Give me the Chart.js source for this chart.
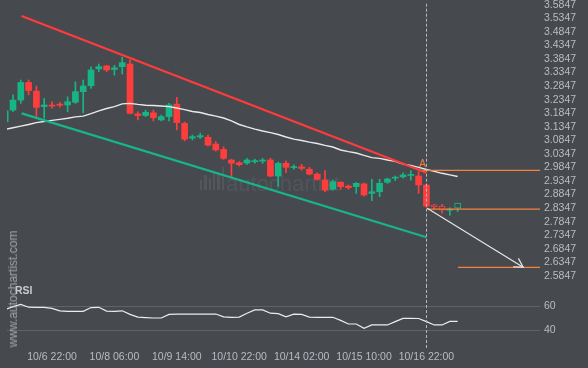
<!DOCTYPE html>
<html><head><meta charset="utf-8">
<script src="https://cdn.jsdelivr.net/npm/chart.js@4/dist/chart.umd.min.js"></script>
<style>
html,body{margin:0;padding:0;background:#464a4f;width:588px;height:368px;overflow:hidden;}
#wrap{position:relative;width:588px;height:368px;}
canvas{position:absolute;left:0;z-index:2;}
#main{top:0;}
#rsi{top:285px;}
.wm{position:absolute;left:226px;top:171px;font:22px "Liberation Sans",Arial,sans-serif;color:rgba(255,255,255,0.075);z-index:1;white-space:nowrap;}
.logo{position:absolute;left:200px;top:166px;width:24px;height:24px;z-index:1;display:flex;align-items:flex-end;gap:2px;}
.logo span{display:block;width:3px;background:rgba(255,255,255,0.07);}
.url{position:absolute;left:13px;top:289px;transform:translate(-50%,-50%) rotate(-90deg);font:12px "Liberation Sans",Arial,sans-serif;color:rgba(190,192,196,0.75);white-space:nowrap;z-index:3;}
</style>
</head><body>
<div id="wrap">
<div class="logo"><span style="height:10px"></span><span style="height:15px"></span><span style="height:12px"></span><span style="height:19px"></span><span style="height:16px"></span><span style="height:23px"></span></div>
<div class="wm">autochartist</div>
<canvas id="main" width="588" height="285"></canvas>
<canvas id="rsi" width="588" height="83"></canvas>
<div class="url">www.autochartist.com</div>
</div>
<script>
// ---- data ----
const xLabels = ["10/6 22:00","10/8 06:00","10/9 14:00","10/10 22:00","10/14 02:00","10/15 10:00","10/16 22:00"];
const xLabelIndex = [6,14,22,30,38,46,54];
const priceTicks = [2.5847,2.6347,2.6847,2.7347,2.7847,2.8347,2.8847,2.9347,2.9847,3.0347,3.0847,3.1347,3.1847,3.2347,3.2847,3.3347,3.3847,3.4347,3.4847,3.5347,3.5847];
const rsiTicks = [40,60];

const opens  = [3.153,3.196,3.233,3.298,3.266,3.209,3.214,3.218,3.215,3.225,3.264,3.286,3.348,3.359,3.346,3.356,3.366,3.182,3.176,3.186,3.160,3.172,3.218,3.147,3.093,3.097,3.096,3.071,3.051,3.012,3.002,3.001,3.006,3.008,3.012,2.953,3.000,2.984,2.987,2.978,2.960,2.938,2.904,2.930,2.916,2.914,2.924,2.889,2.895,2.930,2.945,2.950,2.955,2.953,2.920,2.847,2.842,2.827,2.834];
const highs  = [3.197,3.252,3.307,3.307,3.285,3.239,3.227,3.225,3.245,3.300,3.307,3.356,3.366,3.361,3.361,3.391,3.381,3.190,3.196,3.196,3.178,3.221,3.243,3.152,3.104,3.111,3.104,3.080,3.061,3.015,3.006,3.018,3.015,3.018,3.019,3.005,3.009,2.994,2.996,2.985,2.965,2.973,2.938,2.932,2.920,2.929,2.927,2.941,2.941,2.945,2.953,2.965,2.973,2.969,2.923,2.849,2.849,2.836,2.853];
const lows   = [3.150,3.190,3.221,3.252,3.172,3.166,3.203,3.207,3.190,3.221,3.186,3.276,3.338,3.338,3.325,3.329,3.182,3.160,3.172,3.156,3.156,3.156,3.123,3.083,3.086,3.091,3.064,3.045,3.014,2.950,2.990,2.996,3.000,3.000,2.950,2.914,2.965,2.978,2.975,2.957,2.938,2.895,2.901,2.904,2.904,2.889,2.879,2.862,2.877,2.926,2.936,2.945,2.938,2.889,2.838,2.830,2.816,2.808,2.822];
const closes = [3.193,3.233,3.298,3.268,3.206,3.215,3.211,3.214,3.227,3.264,3.285,3.344,3.356,3.344,3.352,3.371,3.184,3.176,3.188,3.168,3.172,3.215,3.150,3.089,3.098,3.102,3.067,3.049,3.018,3.000,2.995,3.012,3.009,3.012,2.953,3.000,2.985,2.987,2.981,2.960,2.941,2.901,2.932,2.914,2.910,2.926,2.883,2.895,2.926,2.942,2.947,2.957,2.958,2.920,2.842,2.839,2.827,2.829,2.853];
const hollowCandles = [55,56,58];

const maValues = [3.125,3.131,3.137,3.143,3.150,3.154,3.158,3.162,3.166,3.171,3.174,3.183,3.193,3.202,3.209,3.219,3.221,3.217,3.214,3.213,3.211,3.209,3.204,3.198,3.191,3.187,3.180,3.174,3.167,3.156,3.143,3.134,3.126,3.119,3.113,3.106,3.097,3.089,3.084,3.078,3.073,3.066,3.060,3.049,3.043,3.038,3.029,3.021,3.018,3.012,3.007,2.997,2.992,2.985,2.977,2.970,2.963,2.957,2.951];
const rsiValues = [57,59.5,61.3,59,58.9,58.9,58,56,55.6,55.6,55.6,58.7,58.9,55.8,55.6,56,53,50.7,50.3,50,50,53,53.3,53.3,53.3,53.3,53.3,53.3,51,50.6,50.7,54,56.7,56.7,54,53.6,51,53.2,53,50.7,50.6,50.6,50.6,48,45,45,41.4,44.2,44.2,44.2,47,49.7,49.7,49.6,47,44.2,44.2,47.2,47.2];

const resistanceIdx = [2.1,54];   const resistanceVal = [3.543,2.965];
const supportIdx = [2.1,54];      const supportVal = [3.184,2.727];
const levelTop = 2.974, levelTopFrom = 53.2;
const levelMid = 2.831, levelMidFrom = 54.1;
const levelTarget = 2.616, levelTargetFrom = 58.05;
const forecastIdx = [54.1,66.4];  const forecastVal = [2.834,2.617];
const patternMarkIdx = 53.5, patternMarkVal = 2.996;
const markerIndex = 54;

// ---- view ----
const X_MIN = 0.23, X_MAX = 68.56;
const Y_MIN = 2.55115, Y_MAX = 3.60203;
const UP = '#17b585', DOWN = '#ff3d3d', ORANGE = '#f5823c';
const TXT = '#b9bcc1';
const FONT = {family:'"Liberation Sans", Arial, sans-serif', size:10.5};

const isHollow = i => hollowCandles.includes(i);
const colorOf = i => closes[i] >= opens[i] ? UP : DOWN;
const noPad = s => { s.paddingTop = 0; s.paddingBottom = 0; s.paddingLeft = 0; s.paddingRight = 0; };

const pts = (xs, ys) => xs.map((x,i)=>({x, y:ys[i]}));
const lineDs = (data, color, width, order) => ({type:'line', data, borderColor:color, borderWidth:width, pointRadius:0, fill:false, tension:0, order});

const drawMain = {
  id:'mainExtras',
  afterDatasetsDraw(chart){
    const {ctx, scales:{x,y}} = chart;
    ctx.save();
    const vx = Math.round(x.getPixelForValue(markerIndex)) + 0.5;
    ctx.strokeStyle = '#b5b8bc'; ctx.lineWidth = 1; ctx.setLineDash([3,2]);
    ctx.beginPath(); ctx.moveTo(vx, y.getPixelForValue(priceTicks[priceTicks.length-1]) - 1); ctx.lineTo(vx, chart.height); ctx.stroke();
    ctx.setLineDash([]);
    const x0 = x.getPixelForValue(forecastIdx[0]), y0 = y.getPixelForValue(forecastVal[0]);
    const x1 = x.getPixelForValue(forecastIdx[1]), y1 = y.getPixelForValue(forecastVal[1]);
    const a = Math.atan2(y1-y0, x1-x0), L = 10, s = Math.PI/6;
    ctx.strokeStyle = '#e6e6e6'; ctx.lineWidth = 1.2;
    ctx.beginPath();
    ctx.moveTo(x1 - L*Math.cos(a - s), y1 - L*Math.sin(a - s)); ctx.lineTo(x1, y1);
    ctx.lineTo(x1 - L*Math.cos(a + s), y1 - L*Math.sin(a + s));
    ctx.stroke();
    ctx.fillStyle = ORANGE; ctx.font = '10px "Liberation Sans", Arial, sans-serif';
    ctx.textAlign = 'center'; ctx.textBaseline = 'middle';
    ctx.fillText('A', x.getPixelForValue(patternMarkIdx), y.getPixelForValue(patternMarkVal));
    ctx.restore();
  }
};

new Chart(document.getElementById('main'), {
  type:'bar',
  data:{datasets:[
    lineDs(pts(resistanceIdx, resistanceVal), '#ff3b3b', 2.2, 1),
    lineDs(pts(supportIdx, supportVal), '#17b58a', 2.2, 1),
    lineDs(pts([levelTopFrom, X_MAX], [levelTop, levelTop]), ORANGE, 1.3, 2),
    lineDs(pts([levelMidFrom, X_MAX], [levelMid, levelMid]), ORANGE, 1.3, 2),
    lineDs(pts([levelTargetFrom, X_MAX], [levelTarget, levelTarget]), ORANGE, 1.3, 2),
    lineDs(pts(forecastIdx, forecastVal), '#e6e6e6', 1.2, 0),
    lineDs(maValues.map((v,i)=>({x:i, y:v})), '#e9e9e9', 1.4, 3),
    {type:'bar', data: highs.map((h,i)=>({x:i, y:[lows[i], h]})), backgroundColor: c=>colorOf(c.dataIndex), barThickness:1, grouped:false, order:11},
    {type:'bar', data: opens.map((o,i)=>({x:i, y:[o, closes[i]]})),
      backgroundColor: c=> isHollow(c.dataIndex) ? '#464a4f' : colorOf(c.dataIndex),
      borderColor: c=>colorOf(c.dataIndex), borderWidth: c=> isHollow(c.dataIndex) ? 1 : 0,
      borderSkipped:false, barThickness:6, minBarLength:1, grouped:false, order:10}
  ]},
  options:{
    responsive:false, animation:false, devicePixelRatio:1,
    layout:{padding:{left:7,right:0,top:0,bottom:0}, autoPadding:false},
    plugins:{legend:{display:false}, tooltip:{enabled:false}},
    scales:{
      x:{type:'linear', bounds:'data', min:X_MIN, max:X_MAX, offset:false, display:false, grid:{offset:false}, afterFit:noPad},
      y:{position:'right', bounds:'data', min:Y_MIN, max:Y_MAX, beginAtZero:false,
        afterFit:s=>{s.width=48; noPad(s);},
        afterBuildTicks:s=>{s.ticks = priceTicks.map(v=>({value:v}));},
        ticks:{autoSkip:false, padding:4, color:TXT, font:FONT, callback:v=>Number(v).toFixed(4)},
        grid:{display:false, drawTicks:false}, border:{display:false}}
    }
  },
  plugins:[drawMain]
});

const drawRsi = {
  id:'rsiExtras',
  afterDatasetsDraw(chart){
    const {ctx, scales:{x}, chartArea} = chart;
    ctx.save();
    const vx = Math.round(x.getPixelForValue(markerIndex)) + 0.5;
    ctx.strokeStyle = '#b5b8bc'; ctx.lineWidth = 1; ctx.setLineDash([3,2]);
    ctx.beginPath(); ctx.moveTo(vx, 0); ctx.lineTo(vx, chartArea.bottom + 2); ctx.stroke();
    ctx.setLineDash([]);
    ctx.fillStyle = '#c9cbce'; ctx.font = 'bold 10.5px "Liberation Sans", Arial, sans-serif';
    ctx.textAlign = 'left'; ctx.textBaseline = 'middle';
    ctx.fillText('RSI', 15, 6.5);
    ctx.restore();
  }
};

new Chart(document.getElementById('rsi'), {
  type:'line',
  data:{datasets:[lineDs(rsiValues.map((v,i)=>({x:i, y:v})), '#ececec', 1.2, 0)]},
  options:{
    responsive:false, animation:false, devicePixelRatio:1,
    layout:{padding:{left:7,right:0,top:0,bottom:0}, autoPadding:false},
    plugins:{legend:{display:false}, tooltip:{enabled:false}},
    scales:{
      x:{type:'linear', bounds:'data', min:X_MIN, max:X_MAX, offset:false,
        afterFit:s=>{s.height=20; noPad(s);},
        afterBuildTicks:s=>{s.ticks = xLabelIndex.map(v=>({value:v}));},
        ticks:{autoSkip:false, maxRotation:0, padding:3, color:TXT, font:FONT,
          callback:v=>xLabels[xLabelIndex.indexOf(v)]},
        grid:{display:false, drawTicks:false}, border:{display:false}},
      y:{position:'right', bounds:'data', min:25, max:77.5,
        afterFit:s=>{s.width=48; noPad(s);},
        afterBuildTicks:s=>{s.ticks = rsiTicks.map(v=>({value:v}));},
        ticks:{autoSkip:false, padding:4, color:TXT, font:FONT},
        grid:{color:'#5f6368', lineWidth:1, drawTicks:false}, border:{display:false}}
    }
  },
  plugins:[drawRsi]
});
</script>
</body></html>
